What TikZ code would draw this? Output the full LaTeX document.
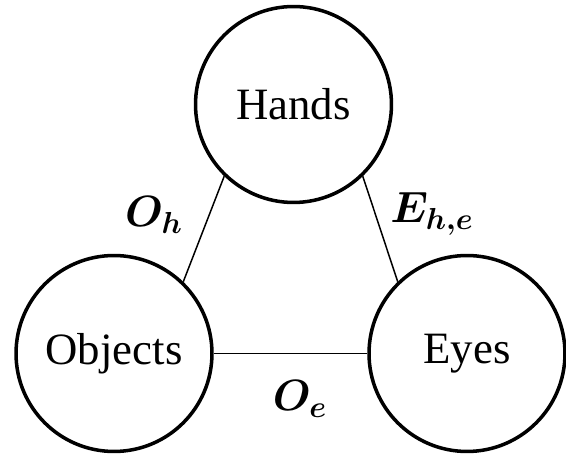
\documentclass[tikz,border=0pt]{standalone}
\usepackage{amsmath}
\usepackage{amssymb}
\usepackage{fontspec}
\setmainfont{Liberation Serif}
\usepackage{tikz}
\usetikzlibrary{positioning,calc}

\tikzset{
  part/.style={draw,circle,line width=2pt,minimum size=3.92cm,inner sep=0pt,
    font=\fontsize{25.5}{30}\selectfont},
  link/.style={line width=0.85pt},
  relname/.style={font=\fontsize{27}{31}\selectfont}
}

\begin{document}
\begin{tikzpicture}[x=0.02cm,y=-0.02cm]
  \useasboundingbox (0,0) rectangle (566,459);
  % the three parts
  \node[part] (hands) at (293.5,104.5) {Hands};
  \node[part] (objects) at (114,353.5) {Objects};
  \node[part] (eyes) at (467,353.5) {Eyes};
  % links
  \draw[link] (hands.226) -- (objects.46);
  \draw[link] (hands.-46) -- (eyes.134);
  \draw[link] (objects) -- (eyes);
  % link names
  \node[relname] (oh) at (154,215) {$\boldsymbol{O_h}$};
  \node[relname] (ehe) at (432,214) {$\boldsymbol{E_{h,e}}$};
  \node[relname] (oe) at (300,399) {$\boldsymbol{O_e}$};
\end{tikzpicture}
\end{document}
